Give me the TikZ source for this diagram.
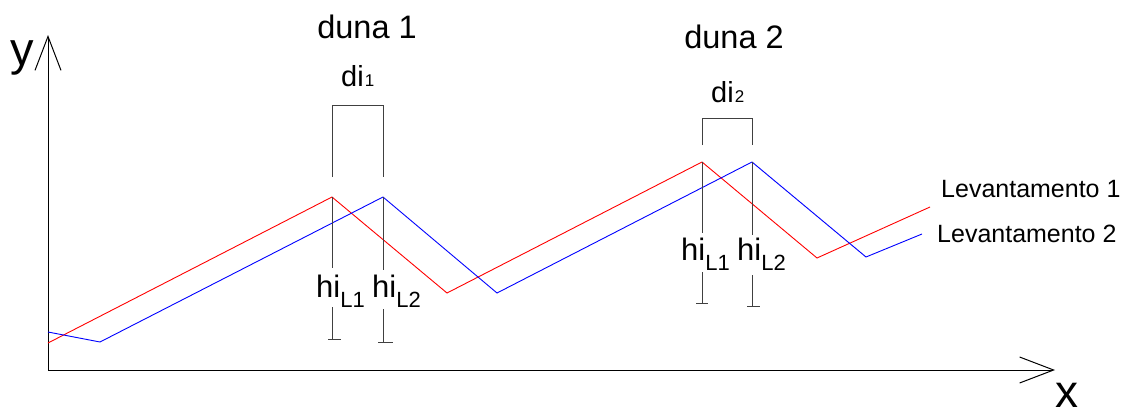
\documentclass[tikz,border=0pt]{standalone}
\usepackage{fontspec}
\setmainfont{Liberation Sans}
\usetikzlibrary{arrows.meta}

\newcommand{\indiceh}[1]{\raisebox{-10pt}{\fontsize{22}{22}\selectfont #1}}
\newcommand{\indiced}[1]{\kern1pt{\fontsize{17}{17}\selectfont #1}}

\begin{document}
\begin{tikzpicture}[x=1pt,y=-1pt,>={Straight Barb[length=34pt,width=26pt]},
  every node/.append style={inner sep=0pt},
  perfil1/.style={red,line width=0.9pt},
  perfil2/.style={blue,line width=0.9pt},
  marca/.style={black!75,line width=0.9pt},
  duna/.style={anchor=base,font=\fontsize{32.5}{36}\selectfont},
  dist/.style={anchor=base west,font=\fontsize{29}{30}\selectfont},
  alt/.style={anchor=base west,font=\fontsize{31}{32}\selectfont},
  legenda/.style={anchor=base west,font=\fontsize{25}{28}\selectfont}]
  \useasboundingbox (0,0) rectangle (1136,418);

  % eixos
  \coordinate (o) at (48,370);
  \coordinate (xfim) at (1055,370);
  \coordinate (yfim) at (48,35);
  \draw[->,line width=1pt] (o) -- (xfim);
  \draw[->,line width=1pt] (o) -- (yfim);
  \node[anchor=base,font=\fontsize{46}{46}\selectfont] (rotx) at (1067,407) {x};
  \node[anchor=base,font=\fontsize{47}{47}\selectfont] (roty) at (22,65) {y};

  % levantamentos
  \draw[perfil1] (48,343) -- (332,197) coordinate (pa1) -- (447,293)
    -- (702,162) coordinate (pb1) -- (817,258) -- (930,207);
  \draw[perfil2] (48,332) -- (100,342) -- (383,197) coordinate (pa2) -- (497,293)
    -- (752,162) coordinate (pb2) -- (866,257) -- (922,234);
  \node[legenda] (lev1) at (941,197) {Levantamento 1};
  \node[legenda] (lev2) at (937,242) {Levantamento 2};

  % duna 1
  \draw[marca] (332,177) -- (332,105) -- (383,105) -- (383,177);
  \draw[marca] (pa1) -- (332,268);
  \draw[marca] (332,307) -- (332,339) (328,339) -- (341,339);
  \draw[marca] (pa2) -- (383,270);
  \draw[marca] (383,309) -- (383,342) (378,342) -- (393,342);
  \node[duna] (duna1) at (367,38) {duna 1};
  \node[dist] (di1) at (341,86) {di\indiced{1}};
  \node[alt] (ha1) at (316,297) {hi\indiceh{L1}};
  \node[alt] (ha2) at (372,297) {hi\indiceh{L2}};

  % duna 2
  \draw[marca] (702,145) -- (702,118) -- (752,118) -- (752,145);
  \draw[marca] (pb1) -- (702,233);
  \draw[marca] (702,272) -- (702,303) (696,303) -- (708,303);
  \draw[marca] (pb2) -- (752,235);
  \draw[marca] (752,275) -- (752,306) (747,306) -- (760,306);
  \node[duna] (duna2) at (734,48) {duna 2};
  \node[dist] (di2) at (711,102) {di\indiced{2}};
  \node[alt] (hb1) at (681,260) {hi\indiceh{L1}};
  \node[alt] (hb2) at (737,260) {hi\indiceh{L2}};
\end{tikzpicture}
\end{document}
